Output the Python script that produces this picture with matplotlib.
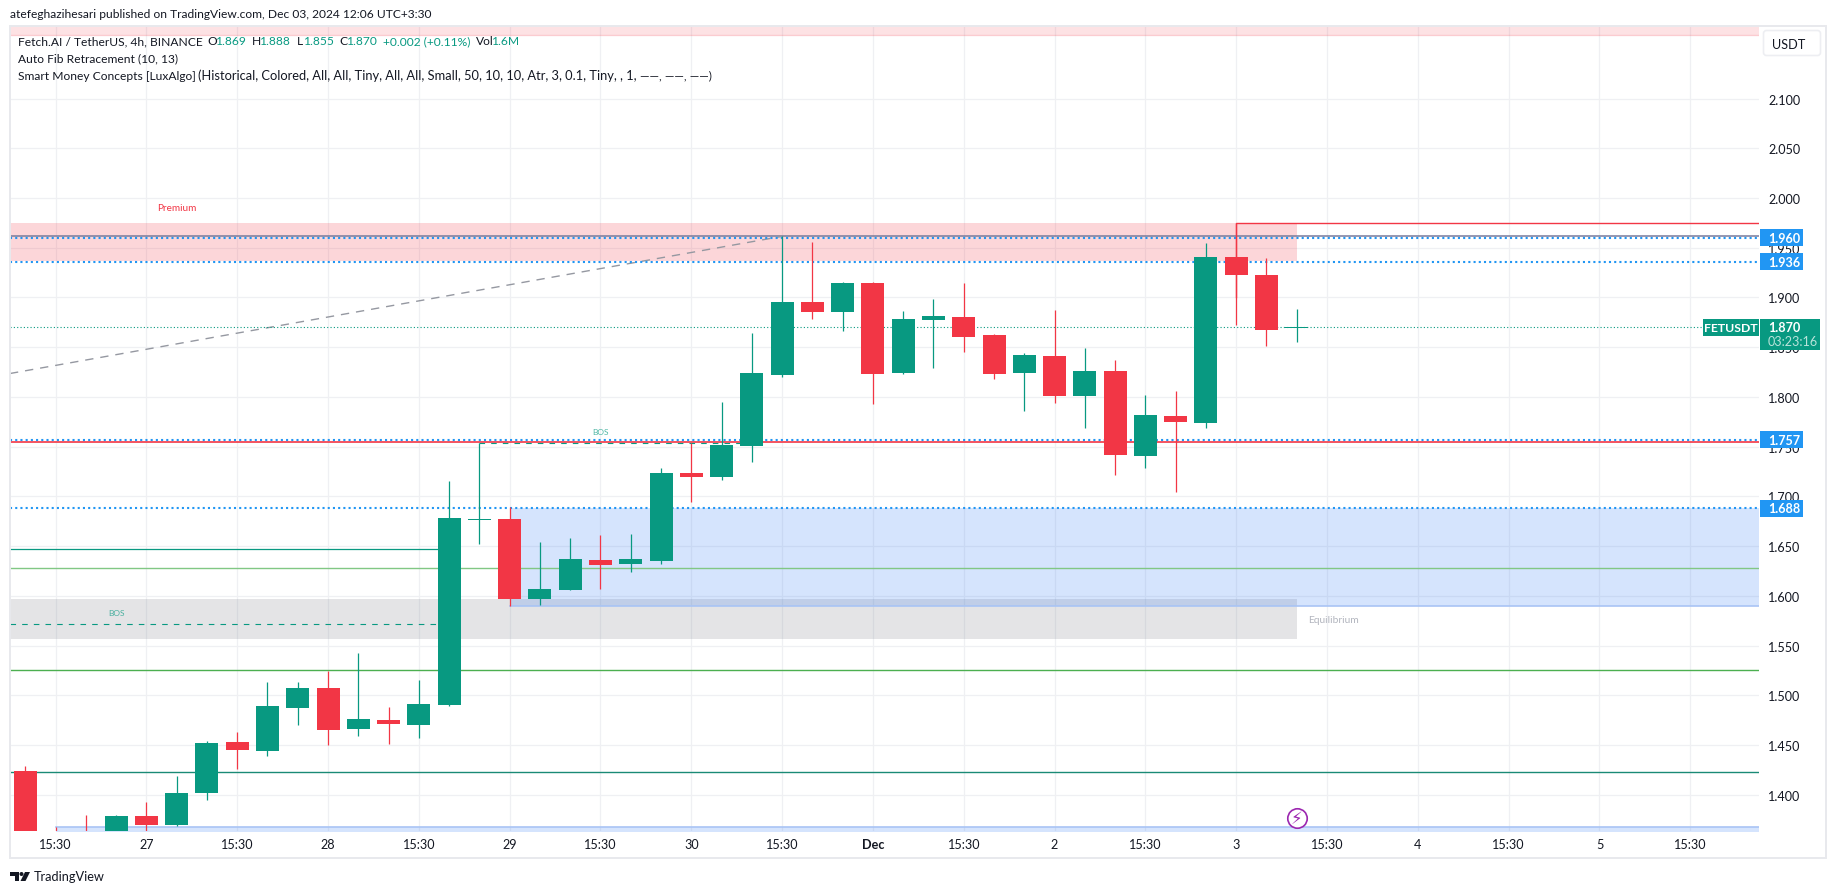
# -*- coding: utf-8 -*-

import matplotlib
matplotlib.use("Agg")
import matplotlib.pyplot as plt
from matplotlib.patches import Rectangle, Polygon, Circle, FancyBboxPatch

GREEN = "#089981"
RED = "#F23645"
BLUE = "#2196F3"
ZONE_BLUE = "#3179F5"
INK = "#131722"
LEGEND_SIZE = 8.65
SCALE_SIZE = 9.1

plt.rcParams["font.family"] = ["Lato", "DejaVu Sans"]

# candles, one per 4h bar
opens = [1.4238, 1.360, 1.350, 1.355, 1.3786, 1.3696, 1.4017, 1.4530, 1.4440, 1.4872,
         1.5073, 1.4661, 1.4751, 1.4701, 1.4902, 1.6765, 1.6772, 1.5968, 1.6058, 1.6360,
         1.6320, 1.6350, 1.7235, 1.7195, 1.7506, 1.8220, 1.8954, 1.8853, 1.9145, 1.8240,
         1.8773, 1.8803, 1.8622, 1.8240, 1.8411, 1.8009, 1.8260, 1.7406, 1.7808, 1.7737,
         1.9406, 1.9225, 1.869]
highs = [1.4289, 1.3675, 1.3796, 1.3796, 1.3927, 1.4188, 1.4540, 1.4631, 1.5133, 1.5133,
         1.5244, 1.5425, 1.4882, 1.5153, 1.7154, 1.7533, 1.6893, 1.6541, 1.6581, 1.6611,
         1.6621, 1.7285, 1.7533, 1.7948, 1.8642, 1.9614, 1.9557, 1.9155, 1.9155, 1.8863,
         1.8984, 1.9145, 1.8632, 1.8441, 1.8873, 1.8491, 1.8371, 1.8019, 1.8059, 1.9547,
         1.9748, 1.9396, 1.888]
lows = [1.340, 1.340, 1.340, 1.340, 1.360, 1.3685, 1.3947, 1.4259, 1.4389, 1.4701,
        1.4500, 1.4590, 1.4510, 1.4570, 1.4892, 1.6521, 1.5900, 1.5907, 1.6058, 1.6068,
        1.6239, 1.6320, 1.6943, 1.7164, 1.7345, 1.8200, 1.8783, 1.8662, 1.7928, 1.8230,
        1.8290, 1.8451, 1.8180, 1.7858, 1.7938, 1.7687, 1.7214, 1.7285, 1.7044, 1.7687,
        1.8723, 1.8512, 1.855]
closes = [1.345, 1.350, 1.345, 1.3786, 1.3696, 1.4017, 1.4520, 1.4450, 1.4892, 1.5073,
          1.4651, 1.4761, 1.4711, 1.4912, 1.6782, 1.6775, 1.5968, 1.6068, 1.6370, 1.6310,
          1.6370, 1.7235, 1.7195, 1.7516, 1.8240, 1.8954, 1.8853, 1.9145, 1.8230, 1.8783,
          1.8813, 1.8602, 1.8230, 1.8421, 1.8009, 1.8260, 1.7416, 1.7818, 1.7747, 1.9406,
          1.9225, 1.8672, 1.870]

x_ticks = list(range(1, 56, 3))
x_labels = ["15:30", "27", "15:30", "28", "15:30", "29", "15:30", "30", "15:30", "Dec",
            "15:30", "2", "15:30", "3", "15:30", "4", "15:30", "5", "15:30"]
y_ticks = [1.40, 1.45, 1.50, 1.55, 1.60, 1.65, 1.70, 1.75, 1.80, 1.85, 1.90, 1.95, 2.00, 2.05, 2.10]

fib_levels = [1.960, 1.936, 1.757, 1.688]
last_price = 1.870

fig = plt.figure(figsize=(18.35, 8.95), dpi=100, facecolor="white")
W, H = 1835, 895

# main chart, plot area in pixels: x 10..1759, y 27..832
ax = fig.add_axes([10 / W, 1 - 832 / H, 1749 / W, 805 / H])
ax.set_xlim(-0.505, 57.27)
ax.set_ylim(1.3635, 2.1729)
for s in ax.spines.values():
    s.set_visible(False)
ax.set_axisbelow(True)
ax.grid(True, color="#eff0f3", lw=0.9)
ax.set_xticks(x_ticks)
ax.set_xticklabels(x_labels)
ax.set_yticks(y_ticks)
ax.set_yticklabels([f"{v:.3f}" for v in y_ticks])
ax.yaxis.tick_right()
ax.tick_params(axis="both", length=0, labelsize=SCALE_SIZE, labelcolor=INK)
ax.tick_params(axis="x", pad=5)
ax.tick_params(axis="y", pad=6.5)
ax.get_xticklabels()[9].set_fontweight("bold")

# zones
ax.axhspan(2.1635, 2.18, color=RED, alpha=0.14, lw=0, zorder=1)
ax.axhline(2.1635, color=RED, alpha=0.25, lw=0.9, zorder=1)
ax.fill_between([-0.505, 42.02], 1.9366, 1.9748, color=RED, alpha=0.2, lw=0, zorder=1)
ax.fill_between([-0.505, 42.02], 1.5566, 1.5968, color="#787B86", alpha=0.2, lw=0, zorder=1)
ax.fill_between([16, 57.27], 1.5900, 1.6880, color=ZONE_BLUE, alpha=0.2, lw=0, zorder=1)
ax.plot([16, 57.27], [1.5900, 1.5900], color="#A9C4F5", lw=1.2, zorder=1)
ax.fill_between([1, 57.27], 1.3600, 1.3675, color=ZONE_BLUE, alpha=0.2, lw=0, zorder=1)
ax.plot([1, 57.27], [1.3675, 1.3675], color="#A9C4F5", lw=1.2, zorder=1)

# structure lines
ax.axhline(1.6277, color="#81C784", lw=1.0, zorder=2)
ax.axhline(1.5251, color="#4CAF50", lw=1.0, zorder=2)
ax.axhline(1.4225, color="#1A8A76", lw=1.0, zorder=2)
ax.plot([-0.505, 14], [1.6468, 1.6468], color=GREEN, lw=0.9, zorder=2)
ax.axhline(1.7545, color=RED, lw=1.2, zorder=2)
ax.plot([40, 40, 57.27], [1.9, 1.9748, 1.9748], color=RED, lw=1.0, zorder=2)
ax.axhline(1.9614, color="#787B9B", lw=1.1, zorder=2)
ax.plot([-0.505, 14], [1.5713, 1.5713], color=GREEN, lw=0.8, ls=(0, (5, 5.5)), zorder=2)
ax.plot([15, 24], [1.7533, 1.7533], color=GREEN, lw=0.8, ls=(0, (5, 5.5)), zorder=2)
ax.plot([-0.505, 25], [1.8235, 1.9614], color="#9598A1", lw=1.0, ls=(0, (6, 5)), zorder=2)

for level in fib_levels:
    ax.axhline(level, color=BLUE, lw=1.5, ls=(0, (1, 1.5)), zorder=2)
ax.axhline(last_price, color=GREEN, lw=0.8, ls=(0, (1, 2)), zorder=2)

# candles
for i in range(len(opens)):
    col = GREEN if closes[i] >= opens[i] else RED
    ax.vlines(i, lows[i], highs[i], color=col, lw=0.9, zorder=3)
    ax.bar(i, max(abs(closes[i] - opens[i]), 0.0012), bottom=min(opens[i], closes[i]),
           width=0.76, color=col, lw=0, zorder=3)

# small labels
ax.text(5.0, 1.9902, "Premium", color=RED, fontsize=7.2, ha="center", va="center", zorder=4)
ax.text(43.2, 1.5760, "Equilibrium", color="#B2B5BE", fontsize=7.4, ha="center", va="center", zorder=4)
ax.text(3.0, 1.5830, "BOS", color=GREEN, alpha=0.7, fontsize=6, ha="center", va="center", zorder=4)
ax.text(19.0, 1.7653, "BOS", color=GREEN, alpha=0.7, fontsize=6, ha="center", va="center", zorder=4)

# alert marker on the last bar
ax.plot(42, 1.3763, marker="o", ms=14, mfc="white", mec="#9C27B0", mew=1.2, clip_on=False, zorder=6)
ax.text(42, 1.3763, "\u26a1", color="#9C27B0", fontsize=12, ha="center", va="center",
        family="DejaVu Sans", zorder=7)

# chrome on top, in pixels
top = fig.add_axes([0, 0, 1, 1], zorder=10)
top.set_xlim(0, W)
top.set_ylim(H, 0)
top.axis("off")
top.patch.set_alpha(0)


def py(price):
    return H - ax.transData.transform((0, price))[1]


top.add_patch(Rectangle((9.5, 26.5), 1816.5, 832.5, fill=False, ec="#E8E9ED", lw=1.4))
top.add_patch(FancyBboxPatch((1763.5, 31.5), 57, 25, boxstyle="round,pad=0,rounding_size=3",
                             fc="white", ec="#EDEEF2", lw=1.2))
top.text(1772, 44.5, "USDT", fontsize=SCALE_SIZE, color=INK, va="center")

top.text(10, 14.7, "atefeghazihesari published on TradingView.com, Dec 03, 2024 12:06 UTC+3:30",
         fontsize=LEGEND_SIZE, color=INK, va="center")
top.text(18, 41.7, "Fetch.AI / TetherUS, 4h, BINANCE", fontsize=LEGEND_SIZE, color=INK, va="center")
for x, txt, col in [(207, "O", INK), (215.8, "1.869", GREEN), (252, "H", INK), (260, "1.888", GREEN),
                    (296.4, "L", INK), (303.6, "1.855", GREEN), (339.3, "C", INK), (347, "1.870", GREEN),
                    (383, "+0.002 (+0.11%)", GREEN), (475.5, "Vol", INK), (492, "1.6M", GREEN)]:
    top.text(x, 41.7, txt, fontsize=LEGEND_SIZE, color=col, va="center")
top.text(18, 59, "Auto Fib Retracement (10, 13)", fontsize=LEGEND_SIZE, color=INK, va="center")
top.text(18, 76, "Smart Money Concepts [LuxAlgo]", fontsize=LEGEND_SIZE, color=INK, va="center")
top.text(198, 76, "(Historical, Colored, All, All, Tiny, All, All, Small, 50, 10, 10, Atr, 3, 0.1, Tiny, , 1,",
         fontsize=9.25, color=INK, va="center")
top.text(640, 76, "\u2014\u2014, \u2014\u2014, \u2014\u2014)", fontsize=LEGEND_SIZE, color=INK, va="center")

# price labels on the scale
for level in fib_levels:
    yc = py(level)
    top.add_patch(Rectangle((1760, yc - 8.5), 43, 17, fc=BLUE, ec="none"))
    top.text(1768, yc, f"{level:.3f}", color="white", fontsize=SCALE_SIZE, va="center", fontweight="bold")

yc = py(last_price)
top.add_patch(Rectangle((1703, yc - 8.5), 56, 17, fc=GREEN, ec="none"))
top.text(1731, yc, "FETUSDT", color="white", fontsize=8.8, va="center", ha="center", fontweight="bold")
top.add_patch(Rectangle((1760, yc - 8.5), 60, 31, fc=GREEN, ec="none"))
top.text(1768, yc, f"{last_price:.3f}", color="white", fontsize=SCALE_SIZE, va="center", fontweight="bold")
top.text(1768, yc + 14, "03:23:16", color="#B9E3DA", fontsize=SCALE_SIZE, va="center")

# TradingView logo
top.add_patch(Polygon([(10, 873), (19, 873), (19, 882), (14.5, 882), (14.5, 877), (10, 877)], fc=INK, ec="none"))
top.add_patch(Circle((21.5, 875), 2, fc=INK, ec="none"))
top.add_patch(Polygon([(25, 873), (30, 873), (25.5, 882), (20.5, 882)], fc=INK, ec="none"))
top.text(33.5, 877.5, "TradingView", fontsize=9.2, color=INK, va="center")

fig.savefig("out.png", dpi=100)
